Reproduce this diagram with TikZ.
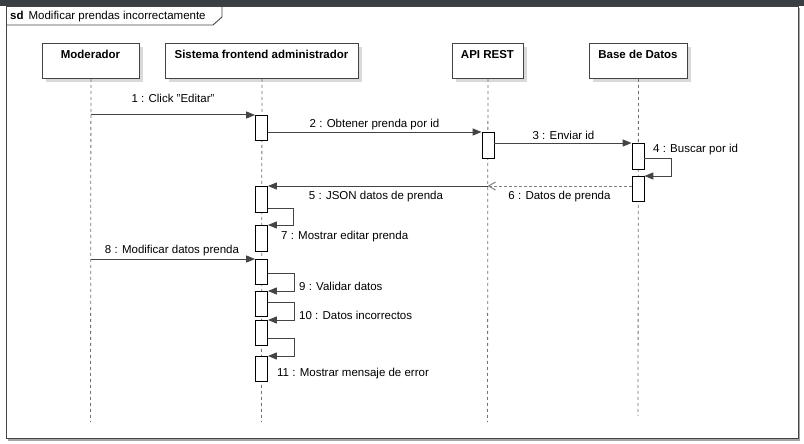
\documentclass[tikz,border=0pt]{standalone}
\usepackage{fontspec}
\setmainfont{Liberation Sans}
\usetikzlibrary{arrows.meta,shadows}
\definecolor{barc}{HTML}{3A3F44}
\definecolor{lnc}{HTML}{444444}
\definecolor{shc}{HTML}{D9D9D9}
\begin{document}
\begin{tikzpicture}[x=1pt,y=-1pt,
  every node/.style={font=\fontsize{11.5}{13}\selectfont, inner sep=0pt},
  head/.style={draw=lnc, line width=0.9pt, fill=white, minimum height=35pt, anchor=north west,
    drop shadow={shadow xshift=4pt, shadow yshift=-4pt, fill=shc, opacity=1}},
  headtext/.style={font=\bfseries\fontsize{11.5}{13}\selectfont},
  act/.style={draw=black, line width=0.8pt, fill=white, minimum width=12pt, anchor=north},
  lifeline/.style={draw=gray!90!black, line width=0.8pt, dash pattern=on 3pt off 3pt},
  msg/.style={draw=lnc, line width=1pt, -{Triangle[length=9pt,width=7pt]}},
  ret/.style={draw=gray, line width=1pt, dash pattern=on 3pt off 2pt, -{Straight Barb[length=7pt,width=8pt]}},
  lbl/.style={anchor=center, yshift=-1.5pt},
  lbll/.style={anchor=west, yshift=-1.5pt}]
\useasboundingbox (0,0) rectangle (804,444);
% frame and top bar
\node[draw=lnc, line width=1pt, fill=white, minimum width=792pt, minimum height=432pt, anchor=north west,
  drop shadow={shadow xshift=1.5pt, shadow yshift=-2pt, fill=gray!70, opacity=1}] (frame) at (6,6) {};
\fill[barc] (0,0) rectangle (804,6.5);
\coordinate (t1) at (6,25);
\coordinate (t2) at (213,25);
\coordinate (t3) at (222,17);
\coordinate (t4) at (222,6);
\draw[draw=lnc, line width=0.9pt] (t1) -- (t2) -- (t3) -- (t4);
\node[anchor=west] (title) at (10,16.5) {\textbf{sd}\hspace{5pt}Modificar prendas incorrectamente};
% heads
\node[head, minimum width=97pt] (mod) at (42,43) {};
\node[head, minimum width=193pt] (sis) at (165,43) {};
\node[head, minimum width=71pt] (api) at (452,43) {};
\node[head, minimum width=98pt] (bd) at (589,43) {};
\node[headtext] (modt) at (90.5,54.5) {Moderador};
\node[headtext] (sist) at (261.5,54.5) {Sistema frontend administrador};
\node[headtext] (apit) at (487.5,54.5) {API REST};
\node[headtext] (bdt) at (638,54.5) {Base de Datos};
% lifeline ends
\coordinate (mode) at (90.5,422);
\coordinate (sise) at (261.5,422);
\coordinate (apie) at (487.5,422);
\coordinate (bde) at (638,416);
\draw[lifeline] (mod.south) -- (mode);
\draw[lifeline] (sis.south) -- (sise);
\draw[lifeline] (api.south) -- (apie);
\draw[lifeline] (bd.south) -- (bde);
% activations
\node[act, minimum height=25pt] (s1) at (261.5,115) {};
\node[act, minimum height=26pt] (a1) at (488,132) {};
\node[act, minimum height=26pt] (b1) at (638,143) {};
\node[act, minimum height=25pt] (b2) at (638,176) {};
\node[act, minimum height=26pt] (s2) at (261.5,186) {};
\node[act, minimum height=26pt] (s3) at (261.5,225) {};
\node[act, minimum height=25pt] (s4) at (261.5,259) {};
\node[act, minimum height=25pt] (s5) at (261.5,291) {};
\node[act, minimum height=25pt] (s6) at (261.5,320) {};
\node[act, minimum height=25pt] (s7) at (261.5,356) {};
% message coordinates
\coordinate (m1s) at (90.5,115);
\coordinate (m2s) at (267.5,132);
\coordinate (m3s) at (494,143);
\coordinate (m4s) at (644,158);
\coordinate (m4a) at (671,158);
\coordinate (m4b) at (671,176);
\coordinate (m6s) at (632,186);
\coordinate (m6e) at (487.5,186);
\coordinate (m7s) at (267.5,208);
\coordinate (m7a) at (293,208);
\coordinate (m7b) at (293,225);
\coordinate (m8s) at (90.5,259);
\coordinate (m9s) at (267.5,273);
\coordinate (m9a) at (294,273);
\coordinate (m9b) at (294,291);
\coordinate (m10s) at (267.5,302);
\coordinate (m10a) at (294,302);
\coordinate (m10b) at (294,320);
\coordinate (m11s) at (267.5,338);
\coordinate (m11a) at (294,338);
\coordinate (m11b) at (294,356);
% messages
\draw[msg] (m1s) -- (s1.north west);
\draw[msg] (m2s) -- (a1.north west);
\draw[msg] (m3s) -- (b1.north west);
\draw[msg] (m4s) -- (m4a) -- (m4b) -- (b2.north east);
\draw[ret] (m6s) -- (m6e);
\draw[msg] (m6e) -- (s2.north east);
\draw[msg] (m7s) -- (m7a) -- (m7b) -- (s3.north east);
\draw[msg] (m8s) -- (s4.north west);
\draw[msg] (m9s) -- (m9a) -- (m9b) -- (s5.north east);
\draw[msg] (m10s) -- (m10a) -- (m10b) -- (s6.north east);
\draw[msg] (m11s) -- (m11a) -- (m11b) -- (s7.north east);
% labels
\node[lbl] (l1) at (173,97) {1 : Click "Editar"};
\node[lbl] (l2) at (374.5,123) {2 : Obtener prenda por id};
\node[lbl] (l3) at (563.5,134) {3 : Enviar id};
\node[lbll] (l4) at (653,148) {4 : Buscar por id};
\node[lbl] (l5) at (376,195) {5 : JSON datos de prenda};
\node[lbl] (l6) at (559.5,195) {6 : Datos de prenda};
\node[lbll] (l7) at (281,235) {7 : Mostrar editar prenda};
\node[lbl] (l8) at (172,249) {8 : Modificar datos prenda};
\node[lbll] (l9) at (299,285) {9 : Validar datos};
\node[lbll] (l10) at (299,314) {10 : Datos incorrectos};
\node[lbll] (l11) at (277,372) {11 : Mostrar mensaje de error};
\end{tikzpicture}
\end{document}
